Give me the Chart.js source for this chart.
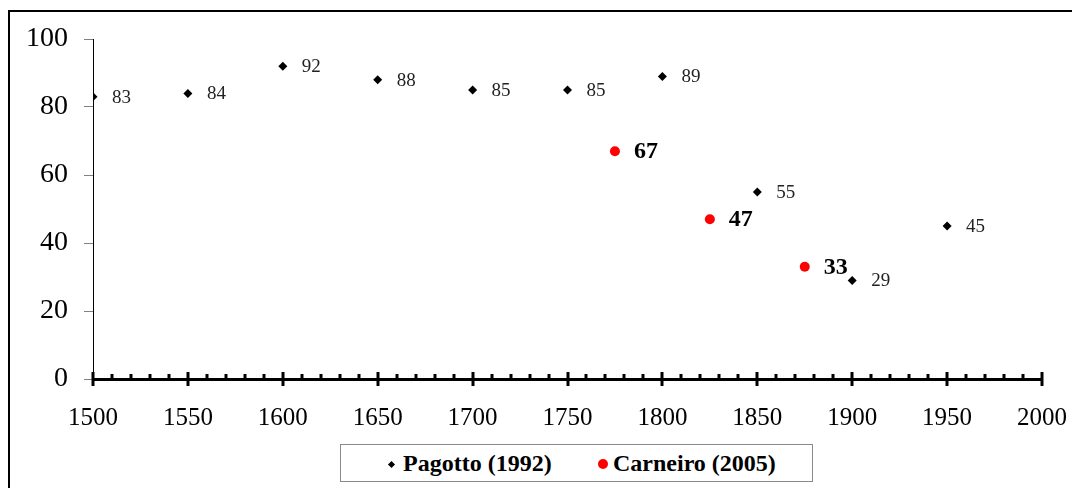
<!DOCTYPE html>
<html>
<head>
<meta charset="utf-8">
<script src="https://cdn.jsdelivr.net/npm/chart.js@4/dist/chart.umd.min.js"></script>
<style>
  html, body { margin: 0; padding: 0; background: #fff; }
  #wrap { position: relative; width: 1072px; height: 488px; overflow: hidden; }
  #frame {
    position: absolute; left: 8px; top: 10px; width: 1200px; height: 600px;
    border-top: 2px solid #000; border-left: 2px solid #000;
  }
  canvas { position: absolute; left: 0; top: 0; }
  #legend {
    position: absolute; left: 340px; top: 444px; width: 471px; height: 36px;
    border: 1px solid #8a8a8a; background: #fff;
    font-family: "Liberation Serif", "Times New Roman", Times, serif;
    font-weight: bold; font-size: 24px; color: #000;
  }
  .item { position: absolute; top: 0; line-height: 37px; white-space: nowrap; }
  .dia { position: absolute; width: 5px; height: 5px; background: #000; transform: rotate(45deg); }
  .dot { position: absolute; width: 10px; height: 10px; border-radius: 50%; background: #ff0000; }
</style>
</head>
<body>
<div id="wrap">
  <div id="frame"></div>
  <canvas id="chart" width="1072" height="488"></canvas>
  <div id="legend">
    <span class="dia" style="left:48px; top:17px;"></span>
    <span class="item" style="left:62px;">Pagotto (1992)</span>
    <span class="dot" style="left:257px; top:14px;"></span>
    <span class="item" style="left:272px;">Carneiro (2005)</span>
  </div>
</div>
<script>
/* ── Data ─────────────────────────────────────────────────────────────── */
const pagottoYears  = [1500, 1550, 1600, 1650, 1700, 1750, 1800, 1850, 1900, 1950];
const pagottoValues = [83, 84, 92, 88, 85, 85, 89, 55, 29, 45];
const carneiroYears  = [1775, 1825, 1875];
const carneiroValues = [67, 47, 33];

const SERIF = '"Liberation Serif", "Times New Roman", Times, serif';

/* ── Value labels next to each point ──────────────────────────────────── */
const valueLabels = {
  id: "valueLabels",
  afterDatasetsDraw(chart) {
    const ctx = chart.ctx;
    chart.data.datasets.forEach((ds, i) => {
      const meta = chart.getDatasetMeta(i);
      ctx.save();
      ctx.font = ds.labelFont;
      ctx.fillStyle = ds.labelColor;
      ctx.textBaseline = "middle";
      ctx.textAlign = "left";
      meta.data.forEach((pt, j) => {
        ctx.fillText(String(ds.data[j].y), pt.x + ds.labelOffset, pt.y + 1);
      });
      ctx.restore();
    });
  }
};

/* ── Major / minor tick marks on the x axis ───────────────────────────── */
const xTicks = {
  id: "xTicks",
  afterDraw(chart) {
    const sx = chart.scales.x;
    const y0 = chart.chartArea.bottom;
    const ctx = chart.ctx;
    ctx.save();
    ctx.strokeStyle = "#000";
    ctx.lineWidth = 3;
    sx.ticks.forEach((t) => {
      const x = Math.round(sx.getPixelForValue(t.value));
      const major = t.value % 50 === 0;
      ctx.beginPath();
      ctx.moveTo(x, y0 - (major ? 7 : 5));
      ctx.lineTo(x, y0 + (major ? 7 : 0));
      ctx.stroke();
    });
    ctx.restore();
  }
};

new Chart(document.getElementById("chart"), {
  type: "scatter",
  data: {
    datasets: [
      {
        label: "Pagotto (1992)",
        data: pagottoYears.map((x, i) => ({ x, y: pagottoValues[i] })),
        pointStyle: "rectRot",
        pointRadius: 4.5,
        backgroundColor: "#000",
        borderWidth: 0,
        labelFont: "19px " + SERIF,
        labelColor: "#222",
        labelOffset: 19,
      },
      {
        label: "Carneiro (2005)",
        data: carneiroYears.map((x, i) => ({ x, y: carneiroValues[i] })),
        pointStyle: "circle",
        pointRadius: 5,
        backgroundColor: "#ff0000",
        borderWidth: 0,
        labelFont: "bold 24px " + SERIF,
        labelColor: "#000",
        labelOffset: 19,
      }
    ]
  },
  options: {
    responsive: false,
    animation: false,
    layout: { padding: { top: 39, right: 30, left: 0, bottom: 0 } },
    plugins: {
      legend: { display: false },
      tooltip: { enabled: false }
    },
    scales: {
      x: {
        type: "linear",
        min: 1500,
        max: 2000,
        afterFit: (s) => { s.height = 109; s.paddingLeft = 0; s.paddingRight = 0; },
        border: { display: true, color: "#000", width: 3 },
        grid: { drawOnChartArea: false, drawTicks: false },
        ticks: {
          stepSize: 10,
          autoSkip: false,
          maxRotation: 0,
          padding: 24,
          color: "#000",
          font: { family: SERIF, size: 25 },
          callback: (v) => (v % 50 === 0 ? String(v) : "")
        }
      },
      y: {
        min: 0,
        max: 100,
        afterFit: (s) => { s.width = 93; s.paddingTop = 0; s.paddingBottom = 0; },
        border: { display: true, color: "#000", width: 1 },
        grid: { drawOnChartArea: false, drawTicks: true, tickLength: 9, color: "#808080" },
        ticks: {
          stepSize: 20,
          padding: 16,
          color: "#000",
          font: { family: SERIF, size: 28 }
        }
      }
    }
  },
  plugins: [valueLabels, xTicks]
});
</script>
</body>
</html>
